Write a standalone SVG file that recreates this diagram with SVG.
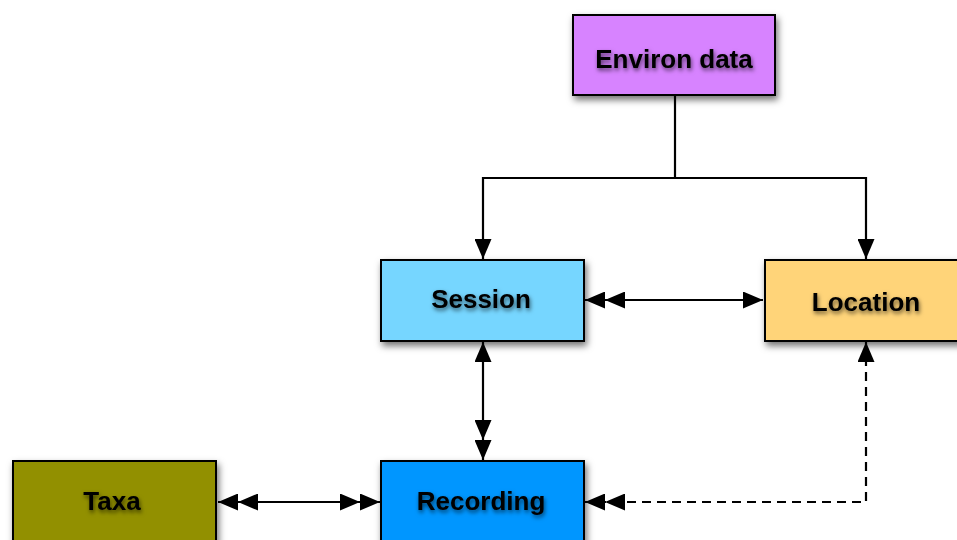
<svg xmlns="http://www.w3.org/2000/svg" width="957" height="540" viewBox="0 0 957 540">
<style>
.box{stroke:#000;stroke-width:2;filter:url(#sh)}
.lbl{font-family:"Liberation Sans",Arial,sans-serif;font-weight:bold;font-size:26px;fill:#000;text-anchor:middle;dominant-baseline:central;filter:url(#tsh)}
.c{fill:none;stroke:#000;stroke-width:2.2}
.dash{stroke-dasharray:9 6}
</style>
<defs>
<filter id="sh" x="-20%" y="-20%" width="150%" height="160%">
<feDropShadow dx="2" dy="4" stdDeviation="3.5" flood-color="#000" flood-opacity="0.55"/>
</filter>
<filter id="tsh" x="-20%" y="-40%" width="140%" height="190%">
<feDropShadow dx="1" dy="2.5" stdDeviation="2" flood-color="#000" flood-opacity="0.6"/>
</filter>
<marker id="a" viewBox="0 0 20 17" refX="20" refY="8.5" markerWidth="20" markerHeight="17" markerUnits="userSpaceOnUse" orient="auto-start-reverse">
<path d="M0,0 L20,8.5 L0,17 Z" fill="#000"/>
</marker>
<marker id="d" viewBox="0 0 40 17" refX="40" refY="8.5" markerWidth="40" markerHeight="17" markerUnits="userSpaceOnUse" orient="auto-start-reverse">
<path d="M0,0 L20,8.5 L0,17 Z M20,0 L40,8.5 L20,17 Z" fill="#000"/>
</marker>
</defs>
<rect width="957" height="540" fill="#fff"/>
<g id="connectors">
<path class="c" d="M675,95 V178"/>
<path class="c" d="M675,178 H483 V259" marker-end="url(#a)"/>
<path class="c" d="M675,178 H866 V259" marker-end="url(#a)"/>
<path class="c" d="M585,300 H763" marker-start="url(#d)" marker-end="url(#a)"/>
<path class="c" d="M483,342 V460" marker-start="url(#a)" marker-end="url(#d)"/>
<path class="c" d="M218,502 H380" marker-start="url(#d)" marker-end="url(#d)"/>
<path class="c dash" d="M866,342 V502 H585" marker-start="url(#a)" marker-end="url(#d)"/>
</g>
<g id="environ">
<rect class="box" x="573" y="15" width="202" height="80" fill="#D783FF"/>
<text class="lbl" x="674" y="59">Environ data</text>
</g>
<g id="session">
<rect class="box" x="381" y="260" width="203" height="81" fill="#76D6FF"/>
<text class="lbl" x="481" y="299">Session</text>
</g>
<g id="location">
<rect class="box" x="765" y="260" width="200" height="81" fill="#FFD479"/>
<text class="lbl" x="866" y="302">Location</text>
</g>
<g id="recording">
<rect class="box" x="381" y="461" width="203" height="82" fill="#0096FF"/>
<text class="lbl" x="481" y="501">Recording</text>
</g>
<g id="taxa">
<rect class="box" x="13" y="461" width="203" height="82" fill="#929000"/>
<text class="lbl" x="112" y="501">Taxa</text>
</g>
</svg>
